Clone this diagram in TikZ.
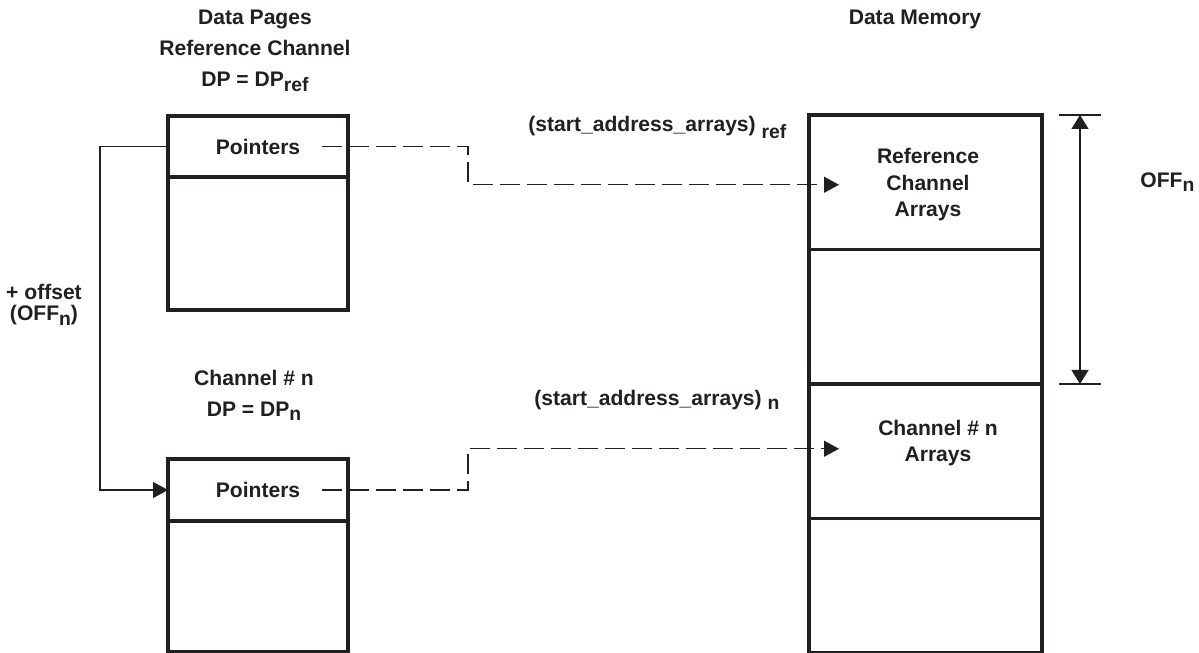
\documentclass[tikz,border=0pt]{standalone}
\usepackage{fontspec}
\setmainfont{Liberation Sans}
\usetikzlibrary{arrows.meta,positioning,calc}
\definecolor{inkgray}{RGB}{35,31,32}
\newcommand{\lsub}[2][2.5pt]{\raisebox{-#1}{\fontsize{11}{12}\selectfont #2}}

\begin{document}
\begin{tikzpicture}[
    cell/.style={rectangle, draw=inkgray, line width=2pt, inner sep=0pt, outer sep=0pt, text=inkgray, font=\bfseries\fontsize{12}{14}\selectfont},
    leftcell/.style={cell, minimum width=3.6cm},
    memcell/.style={cell, minimum width=4.66cm, minimum height=2.69cm},
    caption/.style={text=inkgray, align=center, inner sep=0pt, font=\bfseries\fontsize{12}{17.6}\selectfont},
    celltext/.style={caption, font=\bfseries\fontsize{12}{15}\selectfont},
    ptrline/.style={draw=inkgray, line width=0.7pt, dash pattern=on 0.4cm off 0.14cm, -{Triangle[length=0.3cm,width=0.32cm]}},
    offline/.style={draw=inkgray, line width=0.7pt, -{Triangle[length=0.3cm,width=0.32cm]}},
    dimline/.style={draw=inkgray, line width=0.7pt, {Triangle[length=0.28cm,width=0.34cm]}-{Triangle[length=0.28cm,width=0.34cm]}}
]
\useasboundingbox (0,0) rectangle (23.98,-13.06);

% Reference channel data page
\node (ptrref) [leftcell, minimum height=1.22cm] at (5.16,-2.93) {Pointers};
\node (pageref) [leftcell, minimum height=2.66cm, below=0cm of ptrref] {};
\node (titleref) [caption, anchor=north] at (5.1,-0.2) {Data Pages\\Reference Channel\\DP = DP\lsub{ref}};

% Channel n data page
\node (ptrn) [leftcell, minimum height=1.24cm] at (5.16,-9.8) {Pointers};
\node (pagen) [leftcell, minimum height=2.62cm, below=0cm of ptrn] {};
\node (titlen) [caption, anchor=north] at (5.08,-7.39) {Channel \# n\\DP = DP\lsub{n}};

% Data memory
\node (refarr) [memcell] at (18.51,-3.645) {};
\node (gaparr) [memcell, below=0cm of refarr] {};
\node (chnarr) [memcell, below=0cm of gaparr] {};
\node (lastarr) [memcell, below=0cm of chnarr] {};
\node (titlemem) [caption, anchor=north] at (18.3,-0.2) {Data Memory};
\node (refarrtext) [celltext] at ($(refarr.center)+(0.05,-0.05)$) {Reference\\Channel\\Arrays};
\node (chnarrtext) [celltext] at ($(chnarr.center)+(0.25,0.17)$) {Channel \# n\\Arrays};

% Labels
\node (addrref) [caption, anchor=base west] at (10.56,-2.64) {(start\_address\_arrays) \lsub[3.5pt]{ref}};
\node (addrn) [caption, anchor=base west] at (10.68,-8.11) {(start\_address\_arrays) \lsub{n}};
\node (offlabel) [caption, anchor=north, font=\bfseries\fontsize{12}{12}\selectfont] at (0.88,-5.68) {+ offset\\(OFF\lsub{n})};
\node (offsize) [caption, anchor=west] at (22.8,-3.64) {OFF\lsub{n}};

% Connections
\coordinate (jog) at (9.36,0);
\draw[offline] (ptrref.west) -- ++(-1.36,0) |- (ptrn.west);
\draw[ptrline] ($(ptrref.east)+(-0.52,0)$) -- (ptrref.east -| jog) |- ($(refarr.west)+(0.6,-0.05)$);
\draw[ptrline] ($(ptrn.east)+(-0.52,0)$) -- (ptrn.east -| jog) |- ($(chnarr.west)+(0.6,0.05)$);

% Offset size
\draw[draw=inkgray, line width=0.7pt] ($(refarr.north east)+(0.34,0)$) coordinate (tick1) -- ++(0.84,0);
\draw[draw=inkgray, line width=0.7pt] ($(gaparr.south east)+(0.34,0)$) coordinate (tick2) -- ++(0.84,0);
\draw[dimline] ($(tick1)+(0.42,0)$) -- ($(tick2)+(0.42,0)$);

\end{tikzpicture}
\end{document}
